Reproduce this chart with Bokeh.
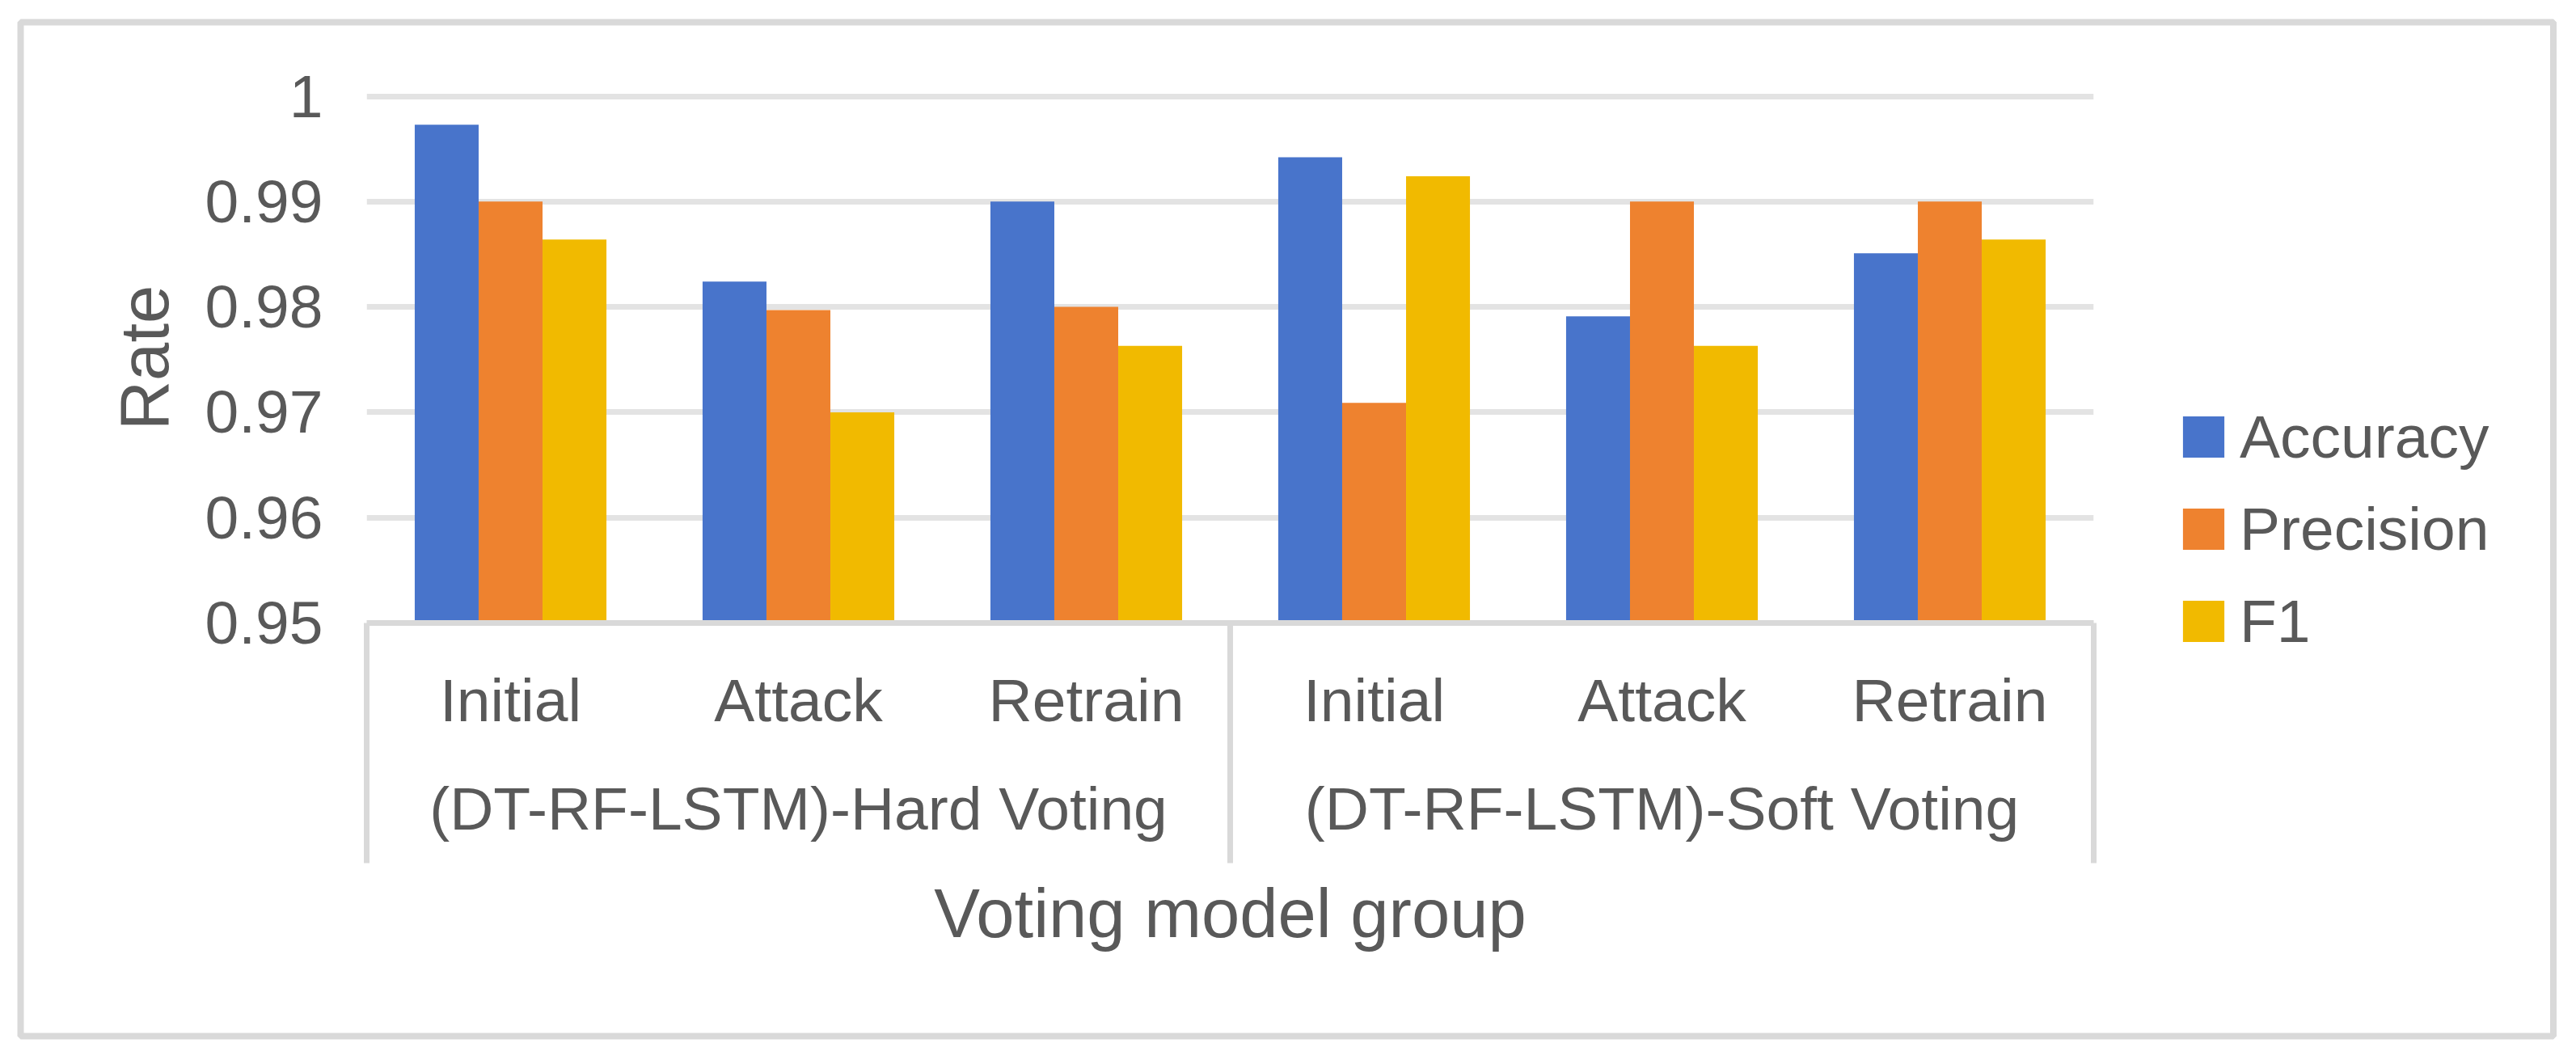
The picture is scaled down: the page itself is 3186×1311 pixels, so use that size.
from bokeh.plotting import figure
from bokeh.models import (FactorRange, Range1d, ColumnDataSource, FixedTicker,
                          CustomJSTickFormatter, Legend, LegendItem)
from bokeh.transform import dodge
from bokeh.embed import file_html
from bokeh.resources import INLINE

# ---------------- data ----------------
groups = ["(DT-RF-LSTM)-Hard Voting", "(DT-RF-LSTM)-Soft Voting"]
stages = ["Initial", "Attack", "Retrain"]
accuracy = [0.9973, 0.9824, 0.9900, 0.9942, 0.9791, 0.9851]
precision = [0.9900, 0.9797, 0.9800, 0.9709, 0.9900, 0.9900]
f1 = [0.9864, 0.9700, 0.9763, 0.9924, 0.9763, 0.9864]
series_names = ["Accuracy", "Precision", "F1"]
y_ticks = [0.95, 0.96, 0.97, 0.98, 0.99, 1.0]

# ---------------- style ----------------
colors = ["#4874CB", "#EE822F", "#F1BA00"]
FONT = "Liberation Sans"
TXT = "#595959"
LINE = "#d9d9d9"
GRID = "#e3e3e3"

factors = [(g, s) for g in groups for s in stages]
source = ColumnDataSource(dict(x=factors, Accuracy=accuracy, Precision=precision, F1=f1))

W, H = 3170, 1295
ML, MR, MT, MB = 453, 581, 114, 525          # frame: x 453..2589, y 114..770
PX_PER_CAT = (W - ML - MR) / len(factors)
Y0 = 0.95
PX_PER_UNIT = 13030.0
y_end = Y0 + (H - MT - MB) / PX_PER_UNIT

p = figure(width=W, height=H,
           x_range=FactorRange(factors=factors, group_padding=0, factor_padding=0, range_padding=0),
           y_range=Range1d(Y0, y_end),
           output_backend="svg", toolbar_location=None,
           min_border_left=ML, min_border_right=MR, min_border_top=MT, min_border_bottom=MB)
p.outline_line_color = None
p.background_fill_color = "white"
p.border_fill_color = "white"

bw = 0.222
offsets = [-bw, 0.0, bw]
renderers = []
for name, col, off in zip(series_names, colors, offsets):
    r = p.vbar(x=dodge("x", off, range=p.x_range), top=name, bottom=Y0, width=bw,
               source=source, fill_color=col, line_color=None)
    renderers.append(r)

# category separators (left edge, between groups, right edge), extending below the axis
sep_bottom = Y0 - 297 / PX_PER_UNIT
sep_src = ColumnDataSource(dict(
    x=[(groups[0], stages[0], -0.5), (groups[1], stages[0], -0.5), (groups[1], stages[-1], 0.5)],
    y0=[Y0] * 3, y1=[sep_bottom] * 3))
p.segment(x0="x", y0="y0", x1="x", y1="y1", source=sep_src, line_color=LINE, line_width=7,
          level="overlay")

# outer chart border (pixel box 25..3157 x 27..1281)
def xoff(px):
    return (groups[0], stages[0], -0.5 + (px - ML) / PX_PER_CAT)

def ydat(py):
    return Y0 + (H - MB - py) / PX_PER_UNIT

border_src = ColumnDataSource(dict(left=[xoff(25)], right=[xoff(3157.5)],
                                   top=[ydat(27)], bottom=[ydat(1281)]))
p.quad(left="left", right="right", top="top", bottom="bottom", source=border_src,
       fill_color=None, line_color=LINE, line_width=8, level="overlay")

# grid
p.xgrid.grid_line_color = None
p.ygrid.ticker = FixedTicker(ticks=y_ticks[1:])
p.ygrid.grid_line_color = GRID
p.ygrid.grid_line_width = 7

# y axis
ya = p.yaxis[0]
ya.ticker = FixedTicker(ticks=y_ticks)
ya.formatter = CustomJSTickFormatter(code="return String(Math.round(tick*100)/100);")
ya.axis_line_color = None
ya.major_tick_line_color = None
ya.minor_tick_line_color = None
ya.major_label_standoff = 48
ya.major_label_text_font = FONT
ya.major_label_text_font_size = "75px"
ya.major_label_text_color = TXT
ya.axis_label = "Rate"
ya.axis_label_text_font = FONT
ya.axis_label_text_font_size = "85px"
ya.axis_label_text_font_style = "normal"
ya.axis_label_text_color = TXT
ya.axis_label_standoff = 25

# x axis
xa = p.xaxis[0]
xa.axis_line_color = LINE
xa.axis_line_width = 7
xa.major_tick_line_color = None
xa.minor_tick_line_color = None
xa.separator_line_color = None
xa.major_label_standoff = 47
xa.major_label_text_font = FONT
xa.major_label_text_font_size = "75px"
xa.major_label_text_color = TXT
xa.group_text_font = FONT
xa.group_text_font_size = "75px"
xa.group_text_font_style = "normal"
xa.group_text_color = TXT
xa.axis_label = "Voting model group"
xa.axis_label_text_font = FONT
xa.axis_label_text_font_size = "85px"
xa.axis_label_text_font_style = "normal"
xa.axis_label_text_color = TXT
xa.axis_label_standoff = 37

# legend (right side panel); negative margin keeps the panel from widening the border
legend = Legend(items=[LegendItem(label=n, renderers=[r]) for n, r in zip(series_names, renderers)],
                location=(104, -41), orientation="vertical",
                glyph_width=64, glyph_height=64, label_standoff=13, spacing=28,
                padding=0, margin=-140, border_line_color=None, background_fill_alpha=0,
                label_text_font=FONT, label_text_font_size="75px", label_text_color=TXT)
p.add_layout(legend, "right")

open("out.html", "w").write(file_html(p, INLINE))
